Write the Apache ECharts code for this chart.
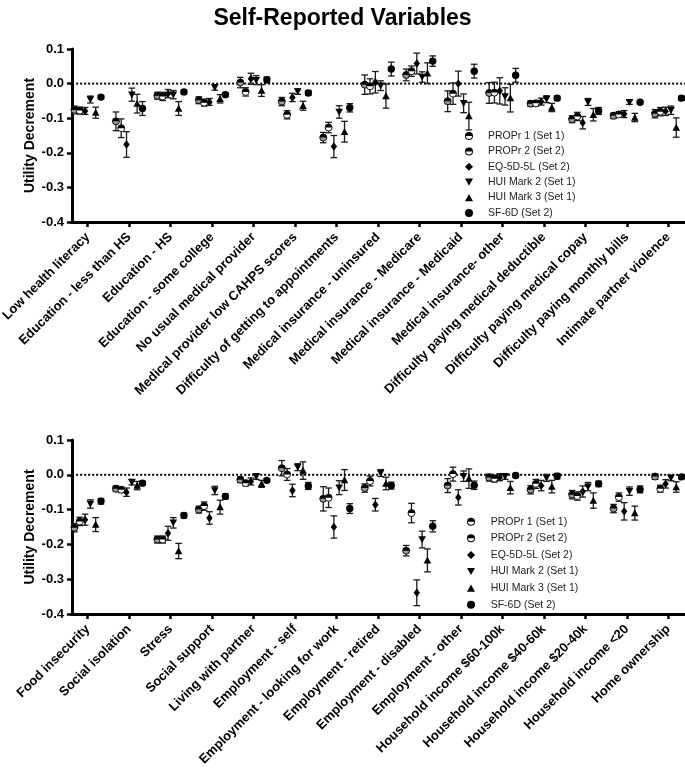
<!DOCTYPE html>
<html>
<head>
<meta charset="utf-8">
<script src="https://cdn.jsdelivr.net/npm/echarts@6/dist/echarts.min.js"></script>
<style>html,body{margin:0;padding:0;background:#fff}#c{width:685px;height:776px}</style>
</head>
<body>
<div id="c"></div>
<script>
// ---------- DATA ----------
const seriesNames = ['PROPr 1 (Set 1)', 'PROPr 2 (Set 2)', 'EQ-5D-5L (Set 2)', 'HUI Mark 2 (Set 1)', 'HUI Mark 3 (Set 1)', 'SF-6D (Set 2)'];
const yTicks = [-0.4, -0.3, -0.2, -0.1, 0.0, 0.1];

const categoriesTop = ['Low health literacy', 'Education - less than HS', 'Education - HS', 'Education - some college',
  'No usual medical provider', 'Medical provider low CAHPS scores', 'Difficulty of getting to appointments',
  'Medical insurance - uninsured', 'Medical insurance - Medicare', 'Medical insurance - Medicaid',
  'Medical insurance- other', 'Difficulty paying medical deductible', 'Difficulty paying medical copay',
  'Difficulty paying monthly bills', 'Intimate partner violence'];

const propr1Top    = [-0.076, -0.109, -0.035, -0.048, 0.003, -0.052, -0.156, -0.003, 0.025, -0.051, -0.027, -0.058, -0.103, -0.093, -0.087];
const propr1TopErr = [0.011, 0.027, 0.010, 0.010, 0.015, 0.012, 0.015, 0.028, 0.017, 0.030, 0.030, 0.008, 0.010, 0.008, 0.012];
const propr2Top    = [-0.078, -0.129, -0.037, -0.055, -0.024, -0.090, -0.127, -0.008, 0.036, -0.029, -0.026, -0.057, -0.095, -0.089, -0.081];
const propr2TopErr = [0.010, 0.027, 0.012, 0.010, 0.012, 0.012, 0.015, 0.022, 0.015, 0.031, 0.030, 0.008, 0.012, 0.008, 0.012];
const eqTop        = [-0.079, -0.176, -0.029, -0.053, 0.014, -0.040, -0.182, 0.004, 0.058, 0.000, -0.021, -0.052, -0.113, -0.088, -0.080];
const eqTopErr     = [0.010, 0.037, 0.012, 0.010, 0.016, 0.012, 0.032, 0.031, 0.030, 0.036, 0.038, 0.010, 0.018, 0.010, 0.012];
const hui2Top      = [-0.046, -0.032, -0.032, -0.011, 0.010, -0.023, -0.082, -0.006, 0.019, -0.057, -0.037, -0.045, -0.053, -0.054, -0.077];
const hui2TopErr   = [0.010, 0.019, 0.012, 0.008, 0.013, 0.008, 0.018, 0.014, 0.015, 0.027, 0.025, 0.010, 0.010, 0.006, 0.012];
const hui3Top      = [-0.084, -0.058, -0.072, -0.044, -0.020, -0.064, -0.139, -0.036, 0.030, -0.094, -0.042, -0.069, -0.090, -0.098, -0.127];
const hui3TopErr   = [0.016, 0.027, 0.020, 0.012, 0.017, 0.013, 0.030, 0.035, 0.030, 0.040, 0.040, 0.012, 0.018, 0.012, 0.028];
const sf6dTop      = [-0.039, -0.072, -0.024, -0.032, 0.011, -0.027, -0.070, 0.042, 0.065, 0.036, 0.024, -0.042, -0.079, -0.054, -0.042];
const sf6dTopErr   = [0.005, 0.020, 0.006, 0.005, 0.008, 0.007, 0.012, 0.020, 0.015, 0.020, 0.020, 0.006, 0.010, 0.005, 0.006];

const categoriesBottom = ['Food insecurity', 'Social isolation', 'Stress', 'Social support', 'Living with partner',
  'Employment - self', 'Employment - looking for work', 'Employment - retired', 'Employment - disabled',
  'Employment - other', 'Household income $60-100k', 'Household income $40-60k', 'Household income $20-40k',
  'Household income <20', 'Home ownership'];

const propr1Bot    = [-0.152, -0.040, -0.186, -0.100, -0.014, 0.019, -0.069, -0.038, -0.218, -0.031, -0.008, -0.043, -0.057, -0.097, -0.005];
const propr1BotErr = [0.012, 0.008, 0.010, 0.010, 0.008, 0.022, 0.035, 0.012, 0.015, 0.020, 0.010, 0.012, 0.012, 0.012, 0.008];
const propr2Bot    = [-0.134, -0.043, -0.186, -0.090, -0.024, 0.001, -0.066, -0.018, -0.110, 0.002, -0.011, -0.026, -0.061, -0.064, -0.040];
const propr2BotErr = [0.012, 0.008, 0.010, 0.012, 0.008, 0.017, 0.028, 0.014, 0.028, 0.020, 0.010, 0.013, 0.012, 0.012, 0.010];
const eqBot        = [-0.129, -0.050, -0.168, -0.124, -0.019, -0.045, -0.150, -0.086, -0.339, -0.065, -0.007, -0.031, -0.048, -0.105, -0.026];
const eqBotErr     = [0.016, 0.012, 0.020, 0.018, 0.010, 0.018, 0.032, 0.018, 0.037, 0.022, 0.010, 0.015, 0.016, 0.025, 0.012];
const hui2Bot      = [-0.084, -0.021, -0.138, -0.045, -0.005, 0.022, -0.037, 0.005, -0.186, -0.004, -0.005, -0.009, -0.034, -0.047, -0.009];
const hui2BotErr   = [0.012, 0.008, 0.015, 0.012, 0.008, 0.010, 0.020, 0.010, 0.024, 0.015, 0.008, 0.010, 0.012, 0.012, 0.008];
const hui3Bot      = [-0.143, -0.031, -0.219, -0.093, -0.026, 0.012, -0.015, -0.025, -0.246, -0.011, -0.037, -0.034, -0.074, -0.110, -0.035];
const hui3BotErr   = [0.020, 0.012, 0.022, 0.020, 0.010, 0.025, 0.030, 0.018, 0.033, 0.028, 0.018, 0.018, 0.022, 0.020, 0.015];
const sf6dBot      = [-0.076, -0.024, -0.117, -0.062, -0.016, -0.032, -0.097, -0.031, -0.148, -0.030, -0.002, -0.004, -0.026, -0.042, -0.006];
const sf6dBotErr   = [0.008, 0.006, 0.007, 0.007, 0.005, 0.010, 0.014, 0.010, 0.016, 0.012, 0.006, 0.008, 0.008, 0.010, 0.005];

// ---------- BUILD ----------
const topVals = [[propr1Top, propr1TopErr], [propr2Top, propr2TopErr], [eqTop, eqTopErr], [hui2Top, hui2TopErr], [hui3Top, hui3TopErr], [sf6dTop, sf6dTopErr]];
const botVals = [[propr1Bot, propr1BotErr], [propr2Bot, propr2BotErr], [eqBot, eqBotErr], [hui2Bot, hui2BotErr], [hui3Bot, hui3BotErr], [sf6dBot, sf6dBotErr]];
const kinds = ['half1', 'half2', 'diamond', 'tdown', 'tup', 'circle'];
const offStep = 0.128;
const X_MIN = -0.379, X_MAX = 14.403;
const FONT = 'Arial, "Liberation Sans", sans-serif';

function markerShapes(kind, x, y) {
  const r = 3.5;
  switch (kind) {
    case 'half1':
    case 'half2':
      return [
        {type: 'circle', shape: {cx: x, cy: y, r: r}, style: {fill: kind === 'half1' ? '#9a9a9a' : '#fff', stroke: '#000', lineWidth: 0.9}},
        {type: 'sector', shape: {cx: x, cy: y, r0: 0, r: r, startAngle: Math.PI, endAngle: 2 * Math.PI, clockwise: true}, style: {fill: '#000'}}
      ];
    case 'diamond':
      return [{type: 'polygon', shape: {points: [[x, y - 4.2], [x + 3.2, y], [x, y + 4.2], [x - 3.2, y]]}, style: {fill: '#000'}}];
    case 'tdown':
      return [{type: 'polygon', shape: {points: [[x - 3.8, y - 3.2], [x + 3.8, y - 3.2], [x, y + 3.8]]}, style: {fill: '#000'}}];
    case 'tup':
      return [{type: 'polygon', shape: {points: [[x - 3.8, y + 3.2], [x + 3.8, y + 3.2], [x, y - 3.8]]}, style: {fill: '#000'}}];
    default:
      return [{type: 'circle', shape: {cx: x, cy: y, r: 3.7}, style: {fill: '#000'}}];
  }
}

function makeRender(kind) {
  return function (params, api) {
    const xv = api.value(0), v = api.value(1), e = api.value(2);
    const p = api.coord([xv, v]);
    const hi = api.coord([xv, v + e]);
    const lo = api.coord([xv, v - e]);
    const cap = 3.3;
    const st = {stroke: '#1a1a1a', lineWidth: 1.3, fill: null};
    const children = [
      {type: 'line', shape: {x1: p[0], y1: hi[1], x2: p[0], y2: lo[1]}, style: st},
      {type: 'line', shape: {x1: p[0] - cap, y1: hi[1], x2: p[0] + cap, y2: hi[1]}, style: st},
      {type: 'line', shape: {x1: p[0] - cap, y1: lo[1], x2: p[0] + cap, y2: lo[1]}, style: st}
    ].concat(markerShapes(kind, p[0], p[1]));
    return {type: 'group', children: children};
  };
}

function buildSeries(vals, gi) {
  const out = [];
  vals.forEach(function (pair, k) {
    const off = (k - 2.5) * offStep;
    out.push({
      name: seriesNames[k],
      type: 'custom',
      xAxisIndex: gi, yAxisIndex: gi,
      renderItem: makeRender(kinds[k]),
      itemStyle: {color: '#000'},
      encode: {x: 0, y: 1},
      clip: false,
      z: 5,
      data: pair[0].map(function (v, i) { return [i + off, v, pair[1][i]]; })
    });
  });
  out.push({
    type: 'line', xAxisIndex: gi, yAxisIndex: gi, silent: true, symbol: 'none', z: 2,
    lineStyle: {color: '#000', width: 2, type: 'dotted', cap: 'butt'},
    data: [[X_MIN + 0.1, 0], [X_MAX, 0]]
  });
  return out;
}

function xAxisFor(gi, cats) {
  const idx = cats.map(function (c, i) { return i; });
  return {
    type: 'value', gridIndex: gi, min: X_MIN, max: X_MAX,
    axisLine: {show: true, onZero: false, lineStyle: {color: '#000', width: 3}},
    axisTick: {show: true, customValues: idx, length: 5, lineStyle: {color: '#000', width: 2.5}},
    axisLabel: {show: true, customValues: idx, rotate: 45, margin: 13, color: '#000', fontWeight: 'bold', fontSize: 13, fontFamily: FONT,
      formatter: function (v) { return cats[Math.round(v)]; }},
    splitLine: {show: false}
  };
}

function yAxisFor(gi) {
  return {
    type: 'value', gridIndex: gi, min: yTicks[0], max: yTicks[yTicks.length - 1], interval: 0.1,
    name: 'Utility Decrement', nameLocation: 'middle', nameGap: 35, nameMoveOverlap: false,
    nameTextStyle: {color: '#000', fontWeight: 'bold', fontSize: 14, fontFamily: FONT},
    axisLine: {show: true, onZero: false, lineStyle: {color: '#000', width: 3}},
    axisTick: {show: true, length: 5, lineStyle: {color: '#000', width: 2.5}},
    axisLabel: {color: '#000', fontWeight: 'bold', fontSize: 13, fontFamily: FONT, margin: 8,
      formatter: function (v) { return (Math.abs(v) < 1e-9 ? 0 : v).toFixed(1); }},
    splitLine: {show: false}
  };
}

const halfIcon = 'path://M50,0A50,50,0,1,1,50,100A50,50,0,1,1,50,0ZM50,12A38,38,0,1,0,50,88A38,38,0,1,0,50,12ZM12,50A38,38,0,0,1,88,50Z';
const legendIcons = [halfIcon, halfIcon, 'diamond', 'path://M0,0L10,0L5,9Z', 'path://M5,0L10,9L0,9Z', 'circle'];

function legendFor(top, left, gap, pad) {
  return {
    orient: 'vertical', left: left, top: top, itemWidth: 8, itemHeight: 8, itemGap: gap,
    padding: 0,
    selectedMode: false,
    textStyle: {color: '#222', fontSize: 10.5, fontFamily: FONT, lineHeight: 12, padding: [0, 0, 0, pad]},
    data: seriesNames.map(function (n, k) { return {name: n, icon: legendIcons[k], itemStyle: {color: '#000'}}; })
  };
}

const option = {
  backgroundColor: '#fff',
  animation: false,
  title: {text: 'Self-Reported Variables', left: 'center', top: 2,
    textStyle: {color: '#000', fontWeight: 'bold', fontSize: 23, fontFamily: FONT}},
  legend: [legendFor(130, 465, 3.4, 10), legendFor(515.7, 467, 4.6, 10.7)],
  grid: [
    {left: 72, right: 0, top: 49, height: 173, containLabel: false, outerBoundsMode: 'none'},
    {left: 72, right: 0, top: 440, height: 174, containLabel: false, outerBoundsMode: 'none'}
  ],
  xAxis: [xAxisFor(0, categoriesTop), xAxisFor(1, categoriesBottom)],
  yAxis: [yAxisFor(0), yAxisFor(1)],
  series: buildSeries(topVals, 0).concat(buildSeries(botVals, 1))
};

const chart = echarts.init(document.getElementById('c'), null, {renderer: 'canvas'});
chart.setOption(option);
</script>
</body>
</html>
